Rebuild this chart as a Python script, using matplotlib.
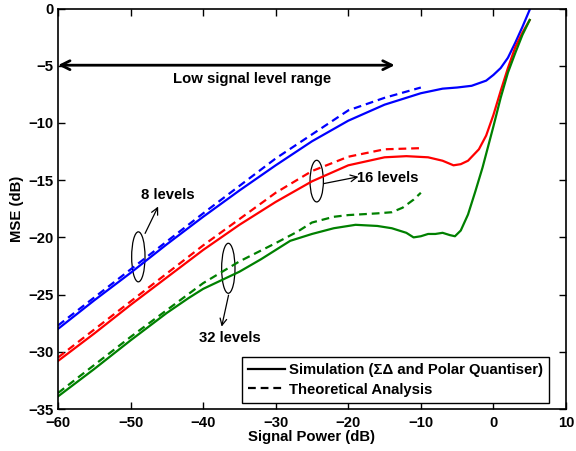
import matplotlib
matplotlib.use("Agg")
import matplotlib.pyplot as plt
from matplotlib.patches import Ellipse

# ---- data ----
b_sim_x = [-60, -55, -50, -45, -40, -35, -30, -25, -20, -15, -10, -7, -5, -3, -1, 0, 1, 2, 3, 4, 5]
b_sim_y = [-28.0, -25.5, -23.1, -20.6, -18.2, -15.9, -13.7, -11.6, -9.8, -8.4, -7.4, -7.0, -6.9, -6.75, -6.3, -5.8, -5.2, -4.3, -3.0, -1.6, -0.1]
b_th_x = [-60, -50, -40, -35, -30, -25, -20, -15, -10]
b_th_y = [-27.7, -22.8, -17.9, -15.5, -13.1, -11.0, -8.9, -7.8, -6.9]

r_sim_x = [-60, -55, -50, -45, -40, -35, -30, -25, -20, -15, -12, -9, -7, -5.5, -4.5, -3.5, -2, -1, 0, 1, 2, 3, 4, 5]
r_sim_y = [-30.8, -28.4, -25.9, -23.5, -21.1, -18.9, -16.9, -15.1, -13.7, -13.0, -12.9, -13.0, -13.3, -13.7, -13.6, -13.3, -12.3, -11.1, -9.3, -7.2, -5.2, -3.4, -2.1, -1.0]
r_th_x = [-60, -50, -40, -35, -30, -25, -20, -15, -10]
r_th_y = [-30.5, -25.6, -20.7, -18.4, -16.1, -14.2, -12.95, -12.3, -12.2]

g_sim_x = [-60, -55, -50, -45, -42, -40, -37, -35, -32, -30, -28, -25, -22, -19, -16, -14, -12, -11, -10, -9, -8, -7, -6, -5.3, -4.5, -3.5, -2.5, -1.5, 0, 1, 2, 3, 4, 5]
g_sim_y = [-33.9, -31.5, -29.0, -26.6, -25.3, -24.5, -23.6, -23.0, -21.9, -21.1, -20.3, -19.7, -19.2, -18.9, -19.0, -19.2, -19.6, -20.0, -19.9, -19.7, -19.7, -19.6, -19.8, -19.9, -19.4, -18.0, -16.0, -13.9, -10.3, -7.8, -5.6, -3.9, -2.3, -1.0]
g_th_x = [-60, -50, -40, -35, -30, -27, -25, -22, -20, -16, -14, -12.5, -11, -10]
g_th_y = [-33.6, -28.7, -24.0, -22.1, -20.5, -19.5, -18.7, -18.2, -18.05, -17.9, -17.8, -17.4, -16.7, -16.1]

x_ticks = [-60, -50, -40, -30, -20, -10, 0, 10]
y_ticks = [-35, -30, -25, -20, -15, -10, -5, 0]

plt.rcParams['font.family'] = ['Liberation Sans', 'DejaVu Sans']
plt.rcParams['font.weight'] = 'bold'
plt.rcParams['font.size'] = 10.7

fig = plt.figure(figsize=(5.76, 4.51), dpi=100)
ax = fig.add_axes([0.1007, 0.0931, 0.8819, 0.8879])

blue = (0, 0, 1)
red = (1, 0, 0)
green = (0, 0.5, 0)
lw = 1.6
dash = (3.5, 2.2)

ax.plot(b_sim_x, b_sim_y, color=blue, lw=lw)
ax.plot(b_th_x, b_th_y, color=blue, lw=lw, dashes=dash)
ax.plot(r_sim_x, r_sim_y, color=red, lw=lw)
ax.plot(r_th_x, r_th_y, color=red, lw=lw, dashes=dash)
ax.plot(g_sim_x, g_sim_y, color=green, lw=lw)
ax.plot(g_th_x, g_th_y, color=green, lw=lw, dashes=dash)

# legend proxies
h1, = ax.plot([], [], color='k', lw=1.6)
h2, = ax.plot([], [], color='k', lw=1.6, dashes=dash)
leg = ax.legend([h1, h2], ['Simulation (ΣΔ and Polar Quantiser)', 'Theoretical Analysis'],
                loc='lower right', bbox_to_anchor=(0.967, 0.016), borderaxespad=0,
                fancybox=False, framealpha=1, edgecolor='k', handlelength=2.5,
                handletextpad=0.3, borderpad=0.4, labelspacing=0.4,
                prop={'weight': 'bold', 'size': 10.7})
leg.get_frame().set_linewidth(1.0)

ax.set_xlim(-60, 10)
ax.set_ylim(-35, 0)
ax.set_xticks(x_ticks)
ax.set_yticks(y_ticks)
ax.set_xticklabels([f"{t}".replace('-', '−') for t in x_ticks], fontweight='bold')
ax.set_yticklabels([f"{t}".replace('-', '−') for t in y_ticks], fontweight='bold')
ax.tick_params(direction='in', top=True, right=True, length=5, width=1, labelsize=10.7)
ax.tick_params(axis='x', pad=5)
ax.tick_params(axis='y', pad=3.5)
for s in ax.spines.values():
    s.set_linewidth(1.2)
ax.set_xlabel('Signal Power (dB)', fontweight='bold', fontsize=10.7, labelpad=0)
ax.set_ylabel('MSE (dB)', fontweight='bold', fontsize=10.7, labelpad=3)

# annotations
ax.annotate('', xy=(-60, -4.95), xytext=(-13.6, -4.95),
            arrowprops=dict(arrowstyle='<->', lw=2, color='k', mutation_scale=16,
                            shrinkA=0, shrinkB=0))
ax.text(-33.3, -6.16, 'Low signal level range', ha='center', va='center',
        fontweight='bold')

for (cx, cy, h) in [(-48.93, -21.7, 4.37), (-24.35, -15.08, 3.64), (-36.53, -22.7, 4.37)]:
    ax.add_patch(Ellipse((cx, cy), 1.84, h, fill=False, edgecolor='k', lw=0.9))

ax.annotate('', xy=(-46.2, -17.3), xytext=(-48.0, -19.65),
            arrowprops=dict(arrowstyle='->', lw=0.9, color='k', mutation_scale=12,
                            shrinkA=0, shrinkB=0))
ax.text(-44.9, -16.3, '8 levels', ha='center', va='center', fontweight='bold')

ax.annotate('', xy=(-18.6, -14.7), xytext=(-23.4, -15.3),
            arrowprops=dict(arrowstyle='->', lw=0.9, color='k', mutation_scale=12,
                            shrinkA=0, shrinkB=0))
ax.text(-14.5, -14.85, '16 levels', ha='center', va='center', fontweight='bold')

ax.annotate('', xy=(-37.45, -27.8), xytext=(-36.5, -25.05),
            arrowprops=dict(arrowstyle='->', lw=0.9, color='k', mutation_scale=12,
                            shrinkA=0, shrinkB=0))
ax.text(-36.35, -28.8, '32 levels', ha='center', va='center', fontweight='bold')

fig.savefig('out.png', dpi=100)
